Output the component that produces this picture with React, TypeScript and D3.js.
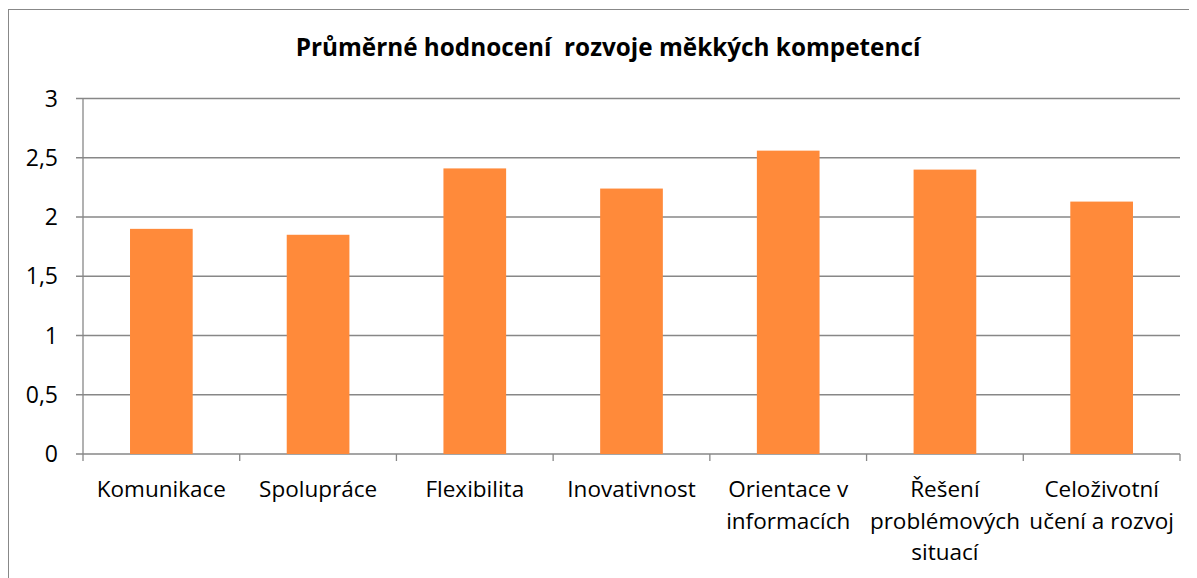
import React from "react";
import * as d3 from "d3";

const title = "Průměrné hodnocení  rozvoje měkkých kompetencí";
const categories: string[][] = [
  ["Komunikace"],
  ["Spolupráce"],
  ["Flexibilita"],
  ["Inovativnost"],
  ["Orientace v", "informacích"],
  ["Řešení", "problémových", "situací"],
  ["Celoživotní", "učení a rozvoj"],
];
const values = [1.9, 1.85, 2.41, 2.24, 2.56, 2.4, 2.13];
const yTicks = [0, 0.5, 1, 1.5, 2, 2.5, 3];
const yTickLabels = ["0", "0,5", "1", "1,5", "2", "2,5", "3"];

const W = 1189;
const H = 570;
const left = 75;
const right = 1172;
const top = 90.5;
const bottom = 446;
const font = "'Open Sans', sans-serif";
const gridColor = "#878787";

export default function App() {
  const keys = categories.map((_, i) => String(i));
  const x = d3.scaleBand<string>().domain(keys).range([left, right]).paddingInner(0.6).paddingOuter(0.3);
  const xStep = d3.scaleBand<string>().domain(keys).range([left, right]);
  const y = d3.scaleLinear().domain([0, 3]).range([bottom, top]);
  const boundaries = d3.range(categories.length + 1).map((i) => left + i * xStep.step());

  return (
    <svg width={W} height={H} style={{ display: "block" }}>
      <rect x={0.5} y={1.5} width={1220} height={620} fill="#fff" stroke="#888" strokeWidth={1} />
      <text x={600} y={48} textAnchor="middle" fontFamily={font} fontWeight="bold" fontSize={24.3} fill="#000" style={{ whiteSpace: "pre" }}>
        {title}
      </text>
      {yTicks.map((t, i) => (
        <g key={t}>
          <line x1={left - 7} x2={right} y1={y(t)} y2={y(t)} stroke={gridColor} strokeWidth={1.3} />
          <text x={50} y={y(t)} dy="0.35em" textAnchor="end" fontFamily={font} fontSize={23} fill="#000">
            {yTickLabels[i]}
          </text>
        </g>
      ))}
      <line x1={left} x2={left} y1={top} y2={bottom} stroke={gridColor} strokeWidth={1.3} />
      {boundaries.map((bx, i) => (
        <line key={i} x1={bx} x2={bx} y1={bottom} y2={bottom + 7} stroke={gridColor} strokeWidth={1.3} />
      ))}
      {values.map((v, i) => (
        <rect key={i} x={x(String(i))} y={y(v)} width={x.bandwidth()} height={y(0) - y(v)} fill="#FF8A3A" />
      ))}
      {categories.map((lines, i) => (
        <text key={i} textAnchor="middle" fontFamily={font} fontSize={22.5} fill="#000">
          {lines.map((ln, j) => (
            <tspan key={j} x={(xStep(String(i)) as number) + xStep.bandwidth() / 2} y={489 + j * 31.5}>
              {ln}
            </tspan>
          ))}
        </text>
      ))}
    </svg>
  );
}
